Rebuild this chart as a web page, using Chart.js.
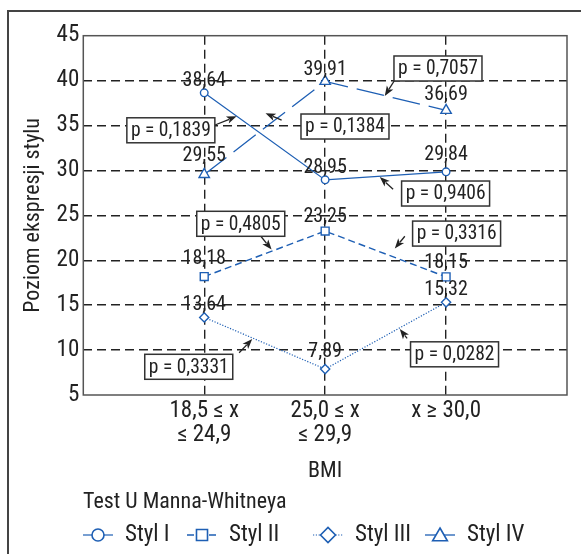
<!DOCTYPE html>
<html>
<head>
<meta charset="utf-8">
<script src="https://cdn.jsdelivr.net/npm/chart.js@4/dist/chart.umd.min.js"></script>
<style>
html,body{margin:0;padding:0;background:#fff;}
#wrap{width:581px;height:554px;}
</style>
</head>
<body>
<div id="wrap"><canvas id="c" width="581" height="554"></canvas></div>
<script>
// ---- data ----
const categories = [['18,5 ≤ x', '≤ 24,9'], ['25,0 ≤ x', '≤ 29,9'], ['x ≥ 30,0']];
const seriesNames = ['Styl I', 'Styl II', 'Styl III', 'Styl IV'];
const stylI = [38.64, 28.95, 29.84];
const stylII = [18.18, 23.25, 18.15];
const stylIII = [13.64, 7.89, 15.32];
const stylIV = [29.55, 39.91, 36.69];
const yTicks = [5, 10, 15, 20, 25, 30, 35, 40, 45];
const pTexts = ['p = 0,1839', 'p = 0,1384', 'p = 0,7057', 'p = 0,9406', 'p = 0,4805', 'p = 0,3316', 'p = 0,3331', 'p = 0,0282'];

// ---- styling ----
const FF = "'Liberation Sans Narrow', 'Arial Narrow', 'Roboto Condensed', Roboto, sans-serif";
const BLUE = '#1e5fb4';
const INK = '#222';
Chart.defaults.font.family = FF;
Chart.defaults.color = INK;

// vertical gap (px) between each marker and its value label, per series
const labelGaps = [[12, 11.5, 17], [18, 14, 13.5], [12, 17, 12], [18, 11.5, 15]];

// annotation placements (data units): box centre, arrow tail, arrow head
const annotations = [
  {box: [0.724, 34.47], tail: [1.089, 35.06], head: [1.268, 36.02]},
  {box: [2.164, 34.89], tail: [1.640, 35.61], head: [1.507, 36.36]},
  {box: [2.933, 41.35], tail: [2.576, 40.07], head: [2.493, 38.29]},
  {box: [2.996, 27.43], tail: [2.562, 27.90], head: [2.452, 29.27]},
  {box: [1.302, 24.06], tail: [1.460, 22.81], head: [1.557, 21.19]},
  {box: [3.087, 22.97], tail: [2.659, 22.67], head: [2.576, 21.32]},
  {box: [0.872, 8.14], tail: [1.289, 9.70], head: [1.397, 11.23]},
  {box: [3.070, 9.53], tail: [2.678, 11.30], head: [2.617, 12.34]}
];

const toPts = arr => arr.map((v, i) => ({x: i + 1, y: v}));

const datasets = [
  {label: seriesNames[0], data: toPts(stylI), borderColor: BLUE, borderWidth: 1.2, borderDash: [],
   pointStyle: 'circle', pointRadius: 3.8, pointBorderWidth: 1.4, pointBackgroundColor: '#fff', pointBorderColor: BLUE},
  {label: seriesNames[1], data: toPts(stylII), borderColor: BLUE, borderWidth: 1.4, borderDash: [7, 4],
   pointStyle: 'rect', pointRadius: 5.6, pointBorderWidth: 1.4, pointBackgroundColor: '#fff', pointBorderColor: BLUE},
  {label: seriesNames[2], data: toPts(stylIII), borderColor: BLUE, borderWidth: 1.2, borderDash: [1.2, 1.6],
   pointStyle: 'rectRot', pointRadius: 4.6, pointBorderWidth: 1.4, pointBackgroundColor: '#fff', pointBorderColor: BLUE},
  {label: seriesNames[3], data: toPts(stylIV), borderColor: BLUE, borderWidth: 1.3, borderDash: [28, 9],
   pointStyle: 'triangle', pointRadius: 6, pointBorderWidth: 1.4, pointBackgroundColor: '#fff', pointBorderColor: BLUE}
];
datasets.forEach(d => { d.fill = false; d.tension = 0; d.pointHoverRadius = d.pointRadius; });

const fmt = v => v.toFixed(2).replace('.', ',');

const framePlugin = {
  id: 'frame',
  beforeDraw(chart) {
    const ctx = chart.ctx;
    ctx.save();
    ctx.fillStyle = '#fff';
    ctx.fillRect(0, 0, chart.width, chart.height);
    ctx.strokeStyle = '#444';
    ctx.lineWidth = 2;
    ctx.beginPath();
    ctx.moveTo(581, 11); ctx.lineTo(8, 11); ctx.lineTo(8, 554);
    ctx.stroke();
    ctx.restore();
  },
  beforeDatasetsDraw(chart) {
    const {ctx, chartArea: a} = chart;
    ctx.save();
    ctx.strokeStyle = '#555';
    ctx.lineWidth = 1.5;
    ctx.strokeRect(a.left, a.top, a.right - a.left, a.bottom - a.top);
    ctx.restore();
  }
};

const labelPlugin = {
  id: 'valueLabels',
  afterDatasetsDraw(chart) {
    const ctx = chart.ctx;
    ctx.save();
    ctx.font = '20px ' + FF;
    ctx.fillStyle = INK;
    ctx.textAlign = 'center';
    ctx.textBaseline = 'middle';
    chart.data.datasets.forEach((ds, di) => {
      const meta = chart.getDatasetMeta(di);
      meta.data.forEach((el, i) => {
        ctx.fillText(fmt(ds.data[i].y), el.x, el.y - labelGaps[di][i]);
      });
    });
    ctx.restore();
  }
};

const annotPlugin = {
  id: 'pAnnotations',
  afterDraw(chart) {
    const ctx = chart.ctx;
    const xs = chart.scales.x, ys = chart.scales.y;
    const P = p => [xs.getPixelForValue(p[0]), ys.getPixelForValue(p[1])];
    ctx.save();
    annotations.forEach((a, i) => {
      // arrow
      const [tx, ty] = P(a.tail), [hx, hy] = P(a.head);
      const ang = Math.atan2(hy - ty, hx - tx);
      const L = 10, W = 3.8;
      ctx.strokeStyle = INK; ctx.fillStyle = INK; ctx.lineWidth = 1.3;
      ctx.beginPath(); ctx.moveTo(tx, ty);
      ctx.lineTo(hx - Math.cos(ang) * L * 0.8, hy - Math.sin(ang) * L * 0.8); ctx.stroke();
      ctx.beginPath();
      ctx.moveTo(hx, hy);
      ctx.lineTo(hx - Math.cos(ang) * L - Math.sin(ang) * W, hy - Math.sin(ang) * L + Math.cos(ang) * W);
      ctx.lineTo(hx - Math.cos(ang) * L * 0.75, hy - Math.sin(ang) * L * 0.75);
      ctx.lineTo(hx - Math.cos(ang) * L + Math.sin(ang) * W, hy - Math.sin(ang) * L - Math.cos(ang) * W);
      ctx.closePath(); ctx.fill();
      // box
      const [bx, by] = P(a.box);
      const w = 88, h = 25;
      ctx.fillStyle = '#fff';
      ctx.fillRect(bx - w / 2, by - h / 2, w, h);
      ctx.strokeStyle = '#333'; ctx.lineWidth = 1.5;
      ctx.strokeRect(bx - w / 2, by - h / 2, w, h);
      ctx.fillStyle = INK;
      ctx.font = '19.5px ' + FF;
      ctx.textAlign = 'center'; ctx.textBaseline = 'middle';
      ctx.fillText(pTexts[i], bx, by + 1);
    });
    ctx.restore();
  }
};

const legendPlugin = {
  id: 'customLegend',
  afterDraw(chart) {
    const ctx = chart.ctx;
    ctx.save();
    ctx.fillStyle = INK;
    ctx.font = '22px ' + FF;
    ctx.textAlign = 'left'; ctx.textBaseline = 'middle';
    ctx.fillText('Test U Manna-Whitneya', 83, 502);
    const xs0 = [83, 187, 313, 425];
    const legR = [6, 7.8, 7.5, 8.5];
    chart.data.datasets.forEach((ds, i) => {
      const x0 = xs0[i], y = 535;
      ctx.save();
      ctx.strokeStyle = ds.borderColor; ctx.lineWidth = ds.borderWidth;
      ctx.setLineDash(i === 3 ? [] : ds.borderDash);
      ctx.beginPath(); ctx.moveTo(x0, y); ctx.lineTo(x0 + 30, y); ctx.stroke();
      ctx.restore();
      ctx.save();
      ctx.fillStyle = '#fff'; ctx.strokeStyle = ds.pointBorderColor; ctx.lineWidth = 1.6;
      Chart.helpers.drawPoint(ctx, {pointStyle: ds.pointStyle, radius: legR[i], rotation: 0, borderWidth: 1.6}, x0 + 15, y + (i === 3 ? 1.5 : 0));
      ctx.restore();
      ctx.fillStyle = INK;
      ctx.font = '23px ' + FF;
      ctx.fillText(ds.label, x0 + 42, y);
    });
    ctx.restore();
  }
};

new Chart(document.getElementById('c'), {
  type: 'line',
  data: {datasets},
  plugins: [framePlugin, labelPlugin, annotPlugin, legendPlugin],
  options: {
    responsive: false,
    animation: false,
    events: [],
    layout: {padding: {top: 35.7, right: 14, left: 0, bottom: 0}},
    plugins: {legend: {display: false}, title: {display: false}, tooltip: {enabled: false}},
    scales: {
      x: {
        type: 'linear', min: 0, max: 4,
        afterBuildTicks: s => { s.ticks = categories.map((c, i) => ({value: i + 1})); },
        afterFit: s => { s.height = 159; },
        ticks: {
          padding: 5, maxRotation: 0, autoSkip: false, color: INK,
          font: {size: 23, lineHeight: 1.02},
          callback: v => categories[v - 1]
        },
        grid: {drawTicks: false, color: '#222', lineWidth: 1.4},
        border: {display: false, dash: [9, 5]},
        title: {display: true, text: 'BMI', color: INK, font: {size: 22, lineHeight: 1.2}, padding: {top: 0, bottom: 69.7}}
      },
      y: {
        type: 'linear', min: 5, max: 45,
        afterBuildTicks: s => { s.ticks = yTicks.map(v => ({value: v})); },
        afterFit: s => { s.width = 83.3; },
        ticks: {padding: 4, color: INK, font: {size: 23}},
        grid: {
          drawTicks: false, lineWidth: 1.4,
          color: c => (c.tick && (c.tick.value === 5 || c.tick.value === 45)) ? 'rgba(0,0,0,0)' : '#222'
        },
        border: {display: false, dash: [9, 5]},
        title: {display: true, text: 'Poziom ekspresji stylu', color: INK, font: {size: 22, lineHeight: 1.2}, padding: {top: 20, bottom: 0}}
      }
    }
  }
});
</script>
</body>
</html>
